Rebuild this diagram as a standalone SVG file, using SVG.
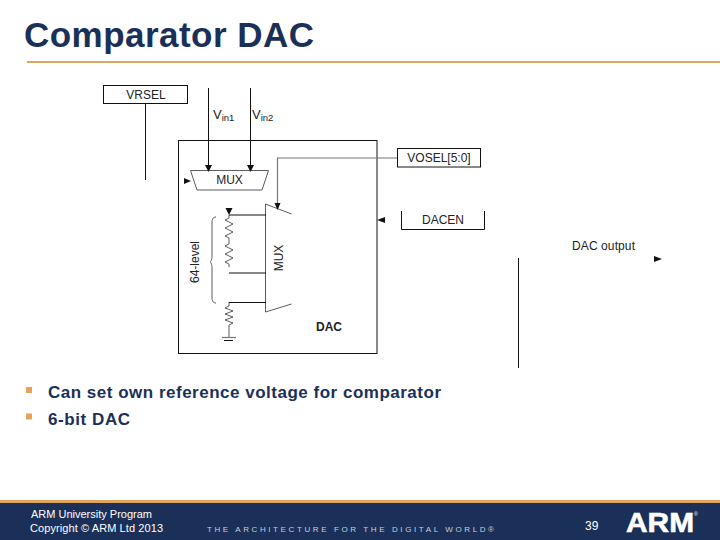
<svg xmlns="http://www.w3.org/2000/svg" width="720" height="540" viewBox="0 0 720 540">
<style>
text{font-family:"Liberation Sans",Arial,sans-serif}
.l{fill:none;stroke:#111;stroke-width:1}
.t{stroke:#333;stroke-width:.8;fill:none}
.g{fill:none;stroke:#777;stroke-width:1.200}
.b{fill:none;stroke:#111;stroke-width:1}
.d{font-size:12px;fill:#222}
.a{fill:#111}
.n{fill:#1b3058;font-weight:bold}
.f{fill:#fff;font-size:11px}
</style>
<rect width="720" height="540" fill="#fff"/>
<g id="title">
<text class="n" x="24" y="47" font-size="35" textLength="290" lengthAdjust="spacing">Comparator DAC</text>
<rect x="27" y="61" width="693" height="2" fill="#dca860"/>
</g>
<g id="dac">
<rect class="b" x="178.500" y="140.500" width="198.500" height="213"/>
<path class="t" d="M229 215v3l-4 2 8 4-8 4 8 4-8 4 4 2v6l-4 2 8 4-8 4 8 4-8 4 4 2v3"/>
<path class="t" d="M229 302v4l-4 2 8 3-8 3 8 3-8 3 8 3-4 2v12"/>
<path class="g" d="M222 337.500H236"/><path class="l" d="M224 340.500H233"/>
<path class="t" d="M216 217c-3 0-4 2-4 6v33c0 4-1 5-2 6 1 1 2 2 2 6v29c0 4 1 6 4 6"/>
<text class="d" transform="translate(199,262) rotate(-90)" text-anchor="middle">64-level</text>
<path class="t" d="M265.500 204V312L291.500 304M265.500 204L291.500 214"/>
<text class="d" transform="translate(283,258) rotate(-90)" text-anchor="middle">MUX</text>
<text x="316" y="331" font-size="12" font-weight="bold" fill="#222">DAC</text>
</g>
<g id="mux1">
<path d="M190.500 170.500H268.500L262 190H197Z" fill="#fff" stroke="#333" stroke-width=".8"/>
<text class="d" x="229.500" y="184" text-anchor="middle">MUX</text>
</g>
<g id="vrsel">
<rect class="b" x="103.500" y="85.500" width="84" height="18"/>
<text class="d" x="146" y="99" text-anchor="middle">VRSEL</text>
</g>
<g id="vin1"><text class="d" x="213" y="119" style="font-size:13px">V<tspan font-size="9.500" dy="2">in1</tspan></text></g>
<g id="vin2"><text class="d" x="252" y="119" style="font-size:13px">V<tspan font-size="9.500" dy="2">in2</tspan></text></g>
<g id="vosel">
<rect class="b" x="397.500" y="148.500" width="83" height="18.500"/>
<text class="d" x="439" y="162" text-anchor="middle">VOSEL[5:0]</text>
</g>
<g id="dacen">
<path class="l" d="M401.500 211V229.500H484.500V211"/>
<text class="d" x="443" y="224" text-anchor="middle">DACEN</text>
</g>
<g id="dacout"><text class="d" x="572" y="250" textLength="63">DAC output</text></g>
<g id="connectors">
<path class="l" d="M145.500 103V180"/>
<path class="l" d="M208.500 88V166"/><path class="a" d="M205 165h7l-3.500 7z"/>
<path class="l" d="M250.500 88V166"/><path class="a" d="M247 165h7l-3.500 7z"/>
<path class="g" d="M397 158H277.500V204"/><path class="a" d="M274.500 203h6l-3 7z"/>
<path class="a" d="M184 178l7 3-7 3z"/>
<path class="a" d="M377 220l8-3v6z"/>
<path class="a" d="M654 256l8 3-8 3z"/>
<path class="l" d="M518.500 258V368"/>
<path class="l" d="M229 215H266M229 273H266M229 302.500H266"/>
<path class="a" d="M225.500 208h7l-3.500 7z"/>
</g>
<g id="bullets">
<rect x="26" y="387" width="6" height="6" fill="#e8a357"/>
<rect x="26" y="413.500" width="6" height="6" fill="#e8a357"/>
<text class="n" x="48" y="398" font-size="17" textLength="393" lengthAdjust="spacing">Can set own reference voltage for comparator</text>
<text class="n" x="48" y="425" font-size="17" textLength="82" lengthAdjust="spacing">6-bit DAC</text>
</g>
<g id="footer">
<rect y="500" width="720" height="40" fill="#1b3058"/>
<rect y="500" width="720" height="3" fill="#e2a35c"/>
<text class="f" x="31" y="518">ARM University Program</text>
<text class="f" x="30" y="532" textLength="133">Copyright © ARM Ltd 2013</text>
<text x="207" y="532" font-size="8" fill="#c9ced8" textLength="287" lengthAdjust="spacing">THE ARCHITECTURE FOR THE DIGITAL WORLD®</text>
<text class="f" x="585" y="530" style="font-size:12px">39</text>
<text x="626" y="532" font-size="28" font-weight="bold" fill="#fff" stroke="#fff" stroke-width=".6" textLength="68" lengthAdjust="spacingAndGlyphs">ARM</text>
<text x="694" y="516" font-size="5" fill="#fff">®</text>
</g>
</svg>
